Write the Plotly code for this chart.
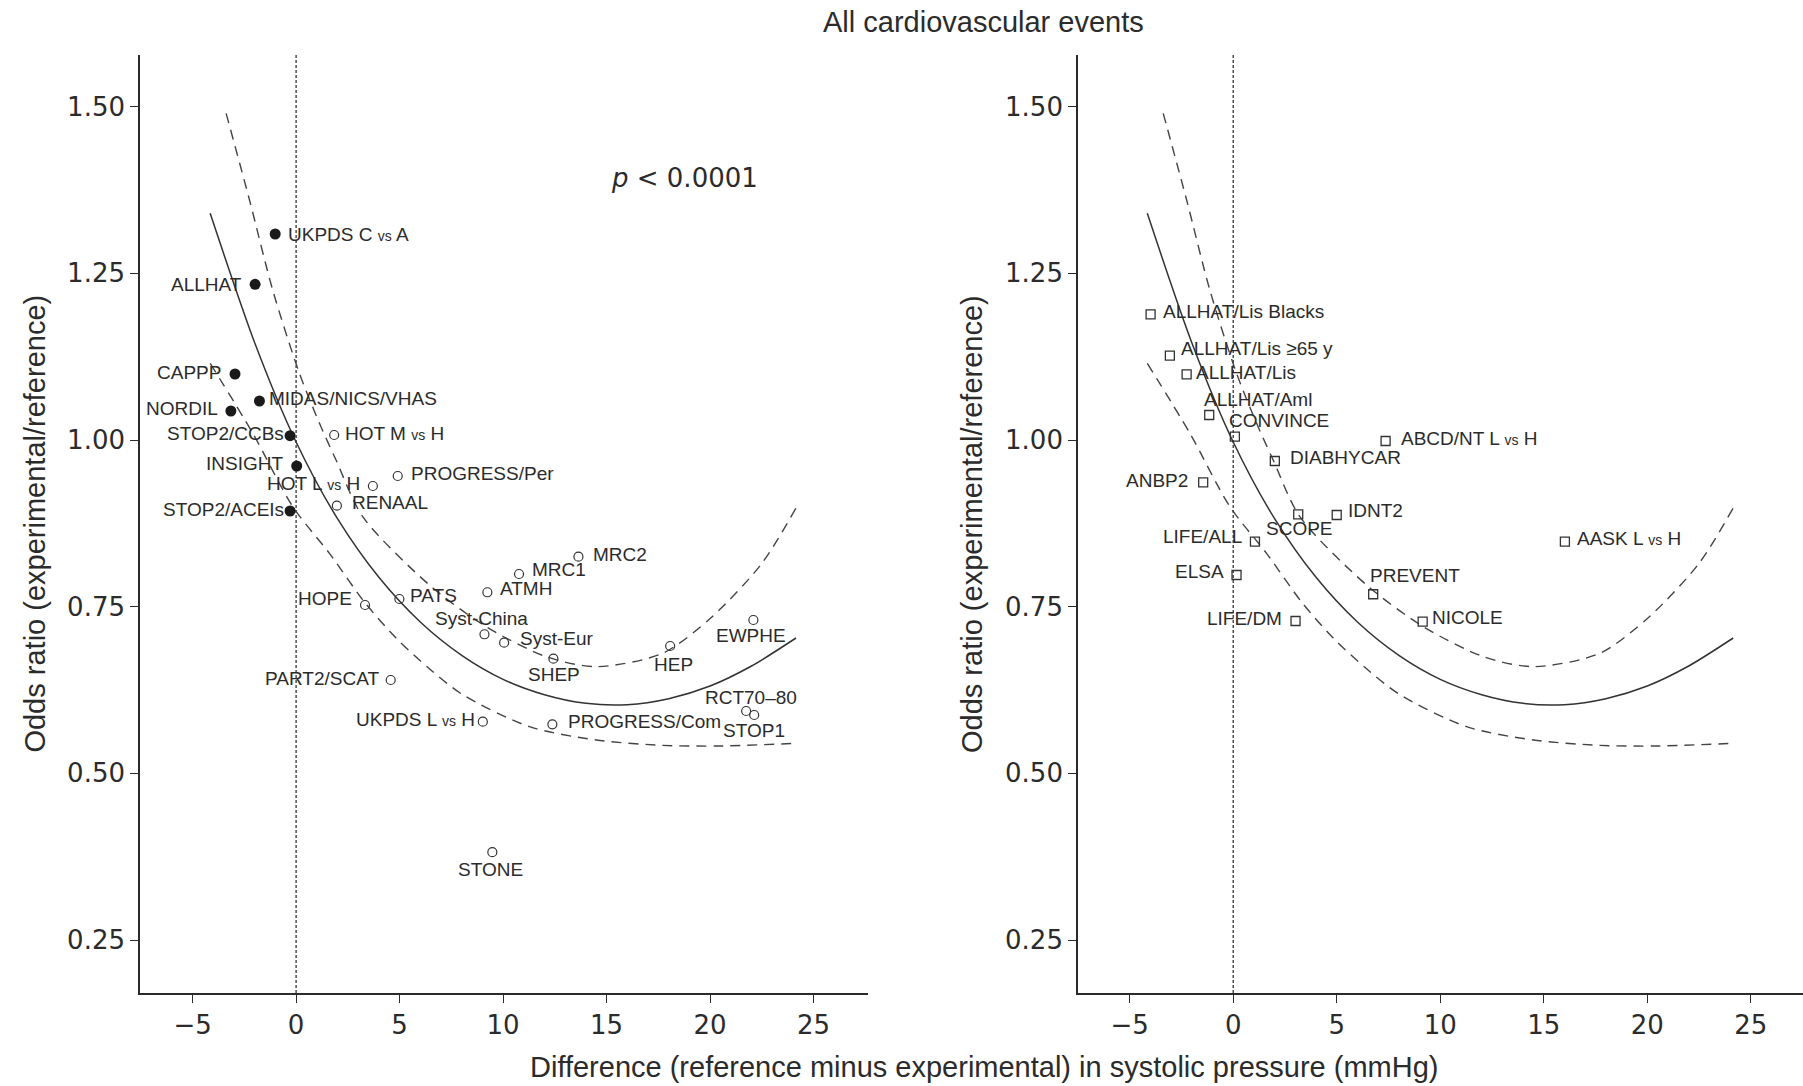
import plotly.graph_objects as go

# ---------------- data ----------------
left_filled_names = ["UKPDS C vs A", "ALLHAT", "CAPPP", "MIDAS/NICS/VHAS", "NORDIL",
                     "STOP2/CCBs", "INSIGHT", "STOP2/ACEIs"]
left_filled_x = [-1.01, -1.98, -2.95, -1.77, -3.15, -0.29, 0.03, -0.29]
left_filled_y = [1.309, 1.2335, 1.099, 1.0585, 1.0435, 1.0065, 0.961, 0.8935]

left_open_names = ["HOT M vs H", "PROGRESS/Per", "HOT L vs H", "RENAAL", "MRC2", "MRC1",
                   "ATMH", "PATS", "HOPE", "Syst-China", "Syst-Eur", "SHEP", "HEP", "EWPHE",
                   "PART2/SCAT", "RCT70\u201380", "STOP1", "UKPDS L vs H", "PROGRESS/Com", "STONE"]
left_open_x = [1.84, 4.91, 3.71, 1.97, 13.64, 10.77, 9.24, 4.99, 3.33, 9.10, 10.05, 12.43,
               18.07, 22.09, 4.57, 21.74, 22.13, 9.02, 12.38, 9.48]
left_open_y = [1.0075, 0.946, 0.931, 0.9015, 0.825, 0.799, 0.7716, 0.7615, 0.7525, 0.7086,
               0.696, 0.672, 0.691, 0.730, 0.640, 0.5935, 0.5875, 0.5775, 0.5735, 0.3817]

right_names = ["ALLHAT/Lis Blacks", "ALLHAT/Lis \u226565 y", "ALLHAT/Lis", "ALLHAT/Aml",
               "CONVINCE", "DIABHYCAR", "ABCD/NT L vs H", "ANBP2", "SCOPE", "IDNT2",
               "LIFE/ALL", "ELSA", "PREVENT", "LIFE/DM", "NICOLE", "AASK L vs H"]
right_x = [-3.99, -3.06, -2.25, -1.16, 0.08, 2.01, 7.36, -1.45, 3.14, 5.0, 1.05, 0.16,
           6.76, 3.01, 9.15, 16.02]
right_y = [1.1885, 1.1265, 1.0985, 1.0375, 1.005, 0.9685, 0.9985, 0.9365, 0.8885, 0.8875,
           0.8475, 0.7975, 0.7686, 0.7285, 0.7275, 0.8475]

fit_x = [-4.15, -2, 0, 2, 4, 6, 8, 10, 12, 14, 16, 18, 20, 22, 24.15]
fit_y = [1.34, 1.146, 0.997, 0.882, 0.794, 0.727, 0.677, 0.641, 0.618, 0.605, 0.603,
         0.612, 0.631, 0.661, 0.703]

upper_x = [-3.38, -2.25, -1.13, 0.16, 1.13, 1.93, 3.22, 6.44, 9.18, 12.08, 14.5, 17.7,
           20.1, 22.5, 24.15]
upper_y = [1.49, 1.36, 1.225, 1.10, 1.025, 0.97, 0.885, 0.7825, 0.72, 0.675, 0.66, 0.68,
           0.735, 0.815, 0.898]

lower_x = [-4.15, -2.09, -0.16, 1.61, 3.3, 4.83, 6.47, 8.05, 11.27, 14.5, 17.7, 20.5, 24.15]
lower_y = [1.115, 1.01, 0.90, 0.83, 0.757, 0.703, 0.656, 0.618, 0.57, 0.55, 0.542, 0.541,
           0.545]

y_ticks = [0.25, 0.50, 0.75, 1.00, 1.25, 1.50]
x_ticks = [-5, 0, 5, 10, 15, 20, 25]

# ---------------- label placement (anchor, dx px, dy px; dy positive = down) ----------
label_pos = {
    "UKPDS C vs A": ("left", 11, 0), "ALLHAT": ("right", -11, 0),
    "CAPPP": ("right", -12, -2), "MIDAS/NICS/VHAS": ("left", 8, -3),
    "NORDIL": ("right", -11, -3), "STOP2/CCBs": ("right", -4, -2),
    "INSIGHT": ("right", -12, -3), "STOP2/ACEIs": ("right", -4, -2),
    "HOT M vs H": ("left", 9, -2), "PROGRESS/Per": ("left", 11, -3),
    "HOT L vs H": ("right", -11, -3), "RENAAL": ("left", 13, -3),
    "MRC2": ("left", 13, -2), "MRC1": ("left", 11, -5), "ATMH": ("left", 11, -4),
    "PATS": ("left", 9, -4), "HOPE": ("right", -11, -7), "Syst-China": ("center", -3, -16),
    "Syst-Eur": ("left", 14, -4), "SHEP": ("center", 1, 16), "HEP": ("center", 3, 18),
    "EWPHE": ("center", -2, 15), "PART2/SCAT": ("right", -10, -2),
    "RCT70\u201380": ("center", 5, -14), "STOP1": ("center", 0, 15),
    "UKPDS L vs H": ("right", -6, -2), "PROGRESS/Com": ("left", 14, -3),
    "STONE": ("center", -2, 17),
    "ALLHAT/Lis Blacks": ("left", 10, -3), "ALLHAT/Lis \u226565 y": ("left", 9, -7),
    "ALLHAT/Lis": ("left", 7, -2), "ALLHAT/Aml": ("left", -7, -16),
    "CONVINCE": ("left", -8, -16), "DIABHYCAR": ("left", 13, -4),
    "ABCD/NT L vs H": ("left", 13, -3), "ANBP2": ("right", -13, -2),
    "SCOPE": ("center", 1, 14), "IDNT2": ("left", 9, -5), "LIFE/ALL": ("right", -11, -5),
    "ELSA": ("right", -11, -4), "PREVENT": ("left", -5, -19), "LIFE/DM": ("right", -12, -3),
    "NICOLE": ("left", 7, -4), "AASK L vs H": ("left", 10, -3),
}

INK = "#2b2b2b"
FONT = "Liberation Sans, Arial, Helvetica, sans-serif"
TICKFONT = "DejaVu Sans, Verdana, sans-serif"


def fmt(name):
    return name.replace(" vs ", " <span style='font-size:14px'>vs</span> ")


fig = go.Figure()

for xa, ya in (("x", "y"), ("x2", "y2")):
    fig.add_trace(go.Scatter(x=upper_x, y=upper_y, mode="lines", xaxis=xa, yaxis=ya,
                             line=dict(color="#444", width=1.4, dash="10px,7px", shape="spline", smoothing=0.8),
                             hoverinfo="skip", showlegend=False))
    fig.add_trace(go.Scatter(x=lower_x, y=lower_y, mode="lines", xaxis=xa, yaxis=ya,
                             line=dict(color="#444", width=1.4, dash="10px,7px", shape="spline", smoothing=0.8),
                             hoverinfo="skip", showlegend=False))
    fig.add_trace(go.Scatter(x=fit_x, y=fit_y, mode="lines", xaxis=xa, yaxis=ya,
                             line=dict(color="#333", width=1.5, shape="spline", smoothing=0.8),
                             hoverinfo="skip", showlegend=False))

fig.add_trace(go.Scatter(x=left_open_x, y=left_open_y, mode="markers", xaxis="x", yaxis="y",
                         marker=dict(symbol="circle-open", size=9, color="#333", line=dict(width=1.2)),
                         text=left_open_names, showlegend=False))
fig.add_trace(go.Scatter(x=left_filled_x, y=left_filled_y, mode="markers", xaxis="x", yaxis="y",
                         marker=dict(symbol="circle", size=11, color="#1a1a1a"),
                         text=left_filled_names, showlegend=False))
fig.add_trace(go.Scatter(x=right_x, y=right_y, mode="markers", xaxis="x2", yaxis="y2",
                         marker=dict(symbol="square-open", size=9, color="#333", line=dict(width=1.3)),
                         text=right_names, showlegend=False))

annotations = []


def add_labels(names, xs, ys, xref, yref):
    for n, x, y in zip(names, xs, ys):
        anchor, dx, dy = label_pos[n]
        annotations.append(dict(x=x, y=y, xref=xref, yref=yref, text=fmt(n), showarrow=False,
                                xanchor=anchor, yanchor="middle", xshift=dx, yshift=-dy,
                                font=dict(family=FONT, size=19, color=INK)))


add_labels(left_filled_names, left_filled_x, left_filled_y, "x", "y")
add_labels(left_open_names, left_open_x, left_open_y, "x", "y")
add_labels(right_names, right_x, right_y, "x2", "y2")

annotations += [
    dict(x=0.5075, y=1.035, xref="paper", yref="paper", text="All cardiovascular events",
         showarrow=False, xanchor="center", yanchor="middle",
         font=dict(family=FONT, size=29, color=INK)),
    dict(x=0.5075, y=-0.079, xref="paper", yref="paper",
         text="Difference (reference minus experimental) in systolic pressure (mmHg)",
         showarrow=False, xanchor="center", yanchor="middle",
         font=dict(family=FONT, size=29, color=INK)),
    dict(x=-0.0634, y=0.5, xref="paper", yref="paper", text="Odds ratio (experimental/reference)",
         showarrow=False, textangle=-90, xanchor="center", yanchor="middle",
         font=dict(family=FONT, size=29, color=INK)),
    dict(x=0.5003, y=0.5, xref="paper", yref="paper", text="Odds ratio (experimental/reference)",
         showarrow=False, textangle=-90, xanchor="center", yanchor="middle",
         font=dict(family=FONT, size=29, color=INK)),
    dict(x=15.12, y=1.393, xref="x", yref="y", text="<i>p</i> &lt; 0.0001",
         showarrow=False, xanchor="left", yanchor="middle",
         font=dict(family=TICKFONT, size=26, color=INK)),
]

shapes = []
for xr, yr in (("x", "y domain"), ("x2", "y2 domain")):
    shapes.append(dict(type="line", xref=xr, yref=yr, x0=0, x1=0, y0=0, y1=1,
                       line=dict(color="#222", width=1.2, dash="3px,2px"), layer="below"))

axis_common = dict(showgrid=False, zeroline=False, showline=True, linecolor=INK, linewidth=1.6,
                   ticks="outside", ticklen=8, tickwidth=1.4, tickcolor=INK,
                   tickfont=dict(family=TICKFONT, size=26, color=INK))

fig.update_layout(
    width=1803, height=1086,
    margin=dict(l=140, r=0, t=55, b=93),
    plot_bgcolor="white", paper_bgcolor="white",
    xaxis=dict(domain=[0, 0.4378], range=[-7.54, 27.63], tickvals=x_ticks,
               ticktext=["\u22125" if v < 0 else str(v) for v in x_ticks], anchor="y", **axis_common),
    yaxis=dict(domain=[0, 1], range=[0.1705, 1.5775], tickvals=y_ticks, tickformat=".2f",
               anchor="x", **axis_common),
    xaxis2=dict(domain=[0.564, 1.0], range=[-7.5, 27.52], tickvals=x_ticks,
                ticktext=["\u22125" if v < 0 else str(v) for v in x_ticks], anchor="y2", **axis_common),
    yaxis2=dict(domain=[0, 1], range=[0.1705, 1.5775], tickvals=y_ticks, tickformat=".2f",
                anchor="x2", **axis_common),
    annotations=annotations,
    shapes=shapes,
    font=dict(family=FONT, color=INK),
)

fig.write_html("out.html", config={"displayModeBar": False},
               post_script="document.body.style.margin='0px';document.body.style.overflow='hidden';")
